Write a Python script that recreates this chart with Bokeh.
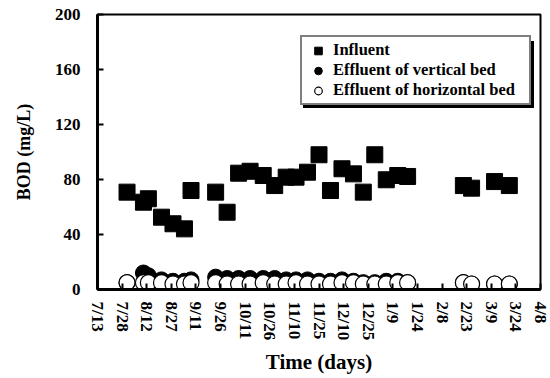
from bokeh.plotting import figure
from bokeh.models import Range1d, FixedTicker, Legend, LegendItem
from bokeh.embed import file_html
from bokeh.resources import INLINE

# days after 7/13
days = [18, 28, 31, 39, 46, 53, 57, 72, 79, 86, 93, 101, 108, 115, 121, 128, 135,
        142, 149, 156, 162, 169, 176, 183, 189, 223, 228, 242, 251]
influent = [70.8, 63.5, 66, 52.6, 47.8, 44.1, 72, 70.8, 56.2, 84.6, 86, 82.9, 75.6,
            81.7, 81.7, 85.3, 98, 72, 87.8, 84.1, 70.8, 98, 79.8, 82.9, 82.2,
            75.6, 73.7, 78.5, 75.6]
vertical = [5, 12, 10, 7, 6, 6, 7, 9, 8, 8, 8, 8, 8, 7, 7, 7, 6, 6, 7, 6, 5, 5, 6, 6, 5,
            5, 4, 4, 4]
horizontal = [5, 5, 5, 5, 4, 4, 5, 5, 4, 4, 4, 5, 4, 4, 5, 4, 4, 4, 5, 5, 4, 4, 4, 5, 5,
              5, 4, 4, 4]
tick_days = list(range(0, 271, 15))
tick_labels = ["7/13", "7/28", "8/12", "8/27", "9/11", "9/26", "10/11", "10/26", "11/10",
               "11/25", "12/10", "12/25", "1/9", "1/24", "2/8", "2/23", "3/9", "3/24", "4/8"]
series_labels = ["Influent", "Effluent of vertical bed", "Effluent of horizontal bed"]

FONT = "Liberation Serif"

p = figure(width=550, height=378, output_backend="svg", toolbar_location=None,
           x_range=Range1d(0, 270), y_range=Range1d(0, 200),
           min_border_left=97, min_border_right=10, min_border_top=14, min_border_bottom=89)
p.background_fill_color = "white"
p.border_fill_color = "white"
p.outline_line_color = "black"
p.outline_line_width = 2
p.xgrid.visible = False
p.ygrid.visible = False

r1 = p.scatter(days, influent, marker="square", size=16, fill_color="black", line_color="black")
r2 = p.scatter(days, vertical, marker="circle", size=16, fill_color="black", line_color="black")
r3 = p.scatter(days, horizontal, marker="circle", size=16, fill_color="white", line_color="black",
               line_width=1.2)
renderers = [r1, r2, r3]

xa = p.xaxis[0]
xa.ticker = FixedTicker(ticks=tick_days)
xa.major_label_overrides = {d: l for d, l in zip(tick_days, tick_labels)}
xa.major_label_orientation = "vertical"
xa.minor_tick_line_color = None
xa.major_tick_in = 6
xa.major_tick_out = 0
xa.major_tick_line_width = 2
xa.axis_line_width = 3
xa.major_label_standoff = 12
xa.major_label_text_font = FONT
xa.major_label_text_font_style = "bold"
xa.major_label_text_font_size = "17px"
xa.major_label_text_color = "black"
xa.axis_label = "Time (days)"
xa.axis_label_text_font = FONT
xa.axis_label_text_font_style = "bold"
xa.axis_label_text_font_size = "21px"
xa.axis_label_text_color = "black"
xa.axis_label_standoff = 7

ya = p.yaxis[0]
ya.ticker = FixedTicker(ticks=[0, 40, 80, 120, 160, 200])
ya.minor_tick_line_color = None
ya.major_tick_in = 6
ya.major_tick_out = 0
ya.major_tick_line_width = 2
ya.axis_line_width = 3
ya.major_label_standoff = 17
ya.major_label_text_font = FONT
ya.major_label_text_font_style = "bold"
ya.major_label_text_font_size = "17px"
ya.major_label_text_color = "black"
ya.axis_label = "BOD (mg/L)"
ya.axis_label_text_font = FONT
ya.axis_label_text_font_style = "bold"
ya.axis_label_text_font_size = "18px"
ya.axis_label_text_color = "black"
ya.axis_label_standoff = 18

lx, ly = 203, 184


def make_legend(loc, shadow):
    lg = Legend(items=[LegendItem(label=(" " if shadow else t), renderers=[r])
                       for t, r in zip(series_labels, renderers)], location=loc)
    lg.border_line_color = "black"
    lg.border_line_width = 2
    lg.background_fill_color = "black" if shadow else "white"
    lg.background_fill_alpha = 1
    lg.label_text_font = FONT
    lg.label_text_font_style = "bold"
    lg.label_text_font_size = "16.5px"
    lg.label_text_color = "black"
    lg.glyph_width = 26
    lg.glyph_height = 19
    lg.label_height = 15
    lg.label_width = 193
    lg.spacing = 0
    lg.padding = 3
    lg.margin = 0
    lg.label_standoff = 2
    return lg


p.add_layout(make_legend((lx + 3, ly - 3), True))
p.add_layout(make_legend((lx, ly), False))

open("out.html", "w").write(file_html(p, INLINE))
